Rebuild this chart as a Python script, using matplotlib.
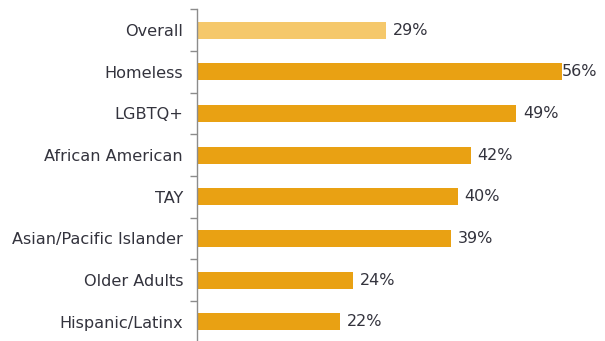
import matplotlib
matplotlib.use('Agg')
import matplotlib.pyplot as plt
import numpy as np

categories = ["Overall", "Homeless", "LGBTQ+", "African American", "TAY",
              "Asian/Pacific Islander", "Older Adults", "Hispanic/Latinx"]
values = [29, 56, 49, 42, 40, 39, 24, 22]
labels = ["29%", "56%", "49%", "42%", "40%", "39%", "24%", "22%"]

colors = ["#F5C86B"] + ["#E9A113"] * (len(values) - 1)
text_color = "#33333d"

fig = plt.figure(figsize=(6.05, 3.41), dpi=100)
ax = fig.add_axes([0.3256, -0.005, 0.668, 0.978])

y = np.arange(len(categories))
ax.barh(y, values, height=0.41, color=colors)

top = max(values)
for i in range(len(values)):
  x = min(values[i] + 1.05, top)
  ax.text(x, y[i], labels[i], va="center", ha="left", fontsize=11.5, color=text_color)

ax.set_ylim(len(categories) - 0.5, -0.5)
ax.set_xlim(0, 62)
ax.set_yticks(y)
ax.set_yticklabels(categories, fontsize=11.6, color=text_color)
ax.set_yticks(np.arange(-0.5, len(categories) + 0.5, 1), minor=True)
ax.tick_params(axis="y", which="major", length=0, pad=10)
ax.tick_params(axis="y", which="minor", length=5, color="#8c8c8c", width=1)
ax.set_xticks([])
for s in ["top", "right", "bottom"]:
  ax.spines[s].set_visible(False)
ax.spines["left"].set_color("#8c8c8c")
ax.spines["left"].set_linewidth(1)

plt.savefig("out.png", dpi=100)
